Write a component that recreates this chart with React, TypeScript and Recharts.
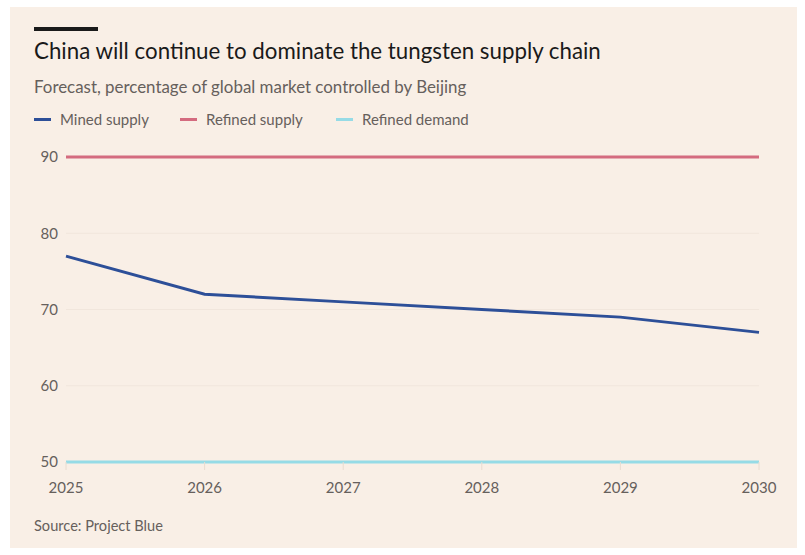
import { LineChart, Line, XAxis, YAxis, CartesianGrid } from "recharts";

const years = ["2025", "2026", "2027", "2028", "2029", "2030"];
const minedSupply = [77, 72, 71, 70, 69, 67];
const refinedSupply = [90, 90, 90, 90, 90, 90];
const refinedDemand = [50, 50, 50, 50, 50, 50];
const yTicks = [50, 60, 70, 80, 90];

const BG = "#f9efe6";
const MUTED = "#66605c";
const FONT = "Lato, 'Open Sans', sans-serif";

const series = [
  { key: "mined", name: "Mined supply", color: "#2d4f98", values: minedSupply },
  { key: "refined", name: "Refined supply", color: "#d46b7f", values: refinedSupply },
  { key: "demand", name: "Refined demand", color: "#96dbe6", values: refinedDemand },
];

const data = years.map((year, i) => ({
  year,
  mined: minedSupply[i],
  refined: refinedSupply[i],
  demand: refinedDemand[i],
}));

const legendX = [34, 180, 336];

export default function App() {
  return (
    <div style={{ position: "fixed", left: 0, top: 0, width: 805, height: 555, background: "#fff", fontFamily: FONT }}>
      <div style={{ position: "absolute", left: 10, top: 7, width: 787, height: 541, background: BG }} />
      <div style={{ position: "absolute", left: 34, top: 27, width: 64, height: 4, background: "#1a1a1a" }} />
      <div style={{ position: "absolute", left: 34, top: 37, fontSize: 22.3, color: "#1a1a1a", whiteSpace: "nowrap" }}>
        China will continue to dominate the tungsten supply chain
      </div>
      <div style={{ position: "absolute", left: 34, top: 76, fontSize: 16.9, color: MUTED, whiteSpace: "nowrap" }}>
        Forecast, percentage of global market controlled by Beijing
      </div>
      {series.map((s, i) => (
        <div key={s.key} style={{ position: "absolute", left: legendX[i], top: 110, display: "flex", alignItems: "center", fontSize: 15, color: MUTED, whiteSpace: "nowrap" }}>
          <span style={{ display: "inline-block", width: 17, height: 3, background: s.color, marginRight: 9 }} />
          {s.name}
        </div>
      ))}
      <div style={{ position: "absolute", left: 34, top: 517, fontSize: 14.6, color: MUTED, whiteSpace: "nowrap" }}>
        Source: Project Blue
      </div>
      <div style={{ position: "absolute", left: 0, top: 0 }}>
        <LineChart width={805} height={555} data={data} margin={{ top: 157, right: 46, bottom: 63, left: 36 }}>
          <CartesianGrid vertical={false} stroke="#f1e6dc" strokeWidth={1} />
          <XAxis
            dataKey="year"
            axisLine={false}
            tickLine={{ stroke: "#e8dcd0" }}
            tickSize={8}
            tickMargin={12}
            height={30}
            interval={0}
            tick={{ fill: MUTED, fontSize: 15, fontFamily: FONT }}
          />
          <YAxis
            domain={[50, 90]}
            ticks={yTicks}
            axisLine={false}
            tickLine={false}
            tickSize={0}
            tickMargin={8}
            width={30}
            tick={{ fill: MUTED, fontSize: 15, fontFamily: FONT }}
          />
          {series.map((s) => (
            <Line
              key={s.key}
              dataKey={s.key}
              name={s.name}
              type="linear"
              stroke={s.color}
              strokeWidth={3}
              dot={false}
              isAnimationActive={false}
            />
          ))}
        </LineChart>
      </div>
    </div>
  );
}
